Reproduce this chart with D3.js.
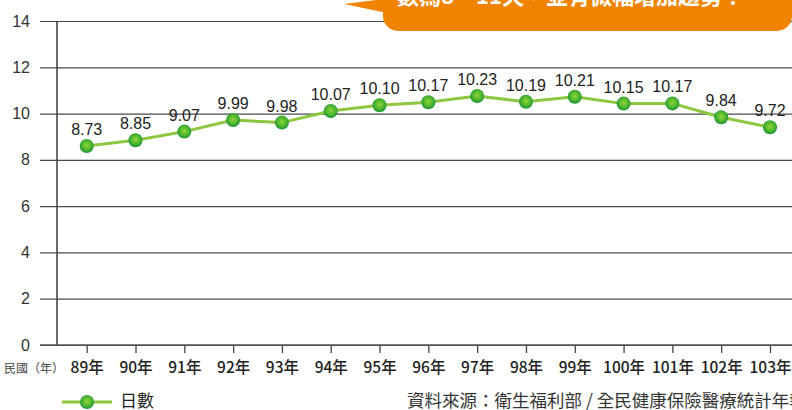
<!DOCTYPE html>
<html>
<head>
<meta charset="utf-8">
<script src="https://cdn.jsdelivr.net/npm/d3@7"></script>
<style>
	html, body { margin: 0; padding: 0; background: #fff; overflow: hidden; }
	svg { display: block; font-family: "Liberation Sans", Arial, "Noto Sans CJK TC", sans-serif; }
	.cjk { font-family: "Noto Sans CJK TC", "Liberation Sans", sans-serif; }
</style>
</head>
<body>
<div id="chart"></div>
<script>
// categories (民國 years)
var years = ["89年", "90年", "91年", "92年", "93年", "94年", "95年", "96年",
	"97年", "98年", "99年", "100年", "101年", "102年", "103年"]
// plotted values (as drawn in the picture)
var days = [8.6, 8.85, 9.22, 9.72, 9.61, 10.11, 10.36, 10.49, 10.76, 10.51, 10.73, 10.43, 10.44, 9.84, 9.41]
// printed labels
var dayLabels = ["8.73", "8.85", "9.07", "9.99", "9.98", "10.07", "10.10", "10.17",
	"10.23", "10.19", "10.21", "10.15", "10.17", "9.84", "9.72"]
var yTicks = [0, 2, 4, 6, 8, 10, 12, 14]

var w = 792, h = 410,
	margins = {top: 21, bottom: 345, left: 57, right: 792},
	lineColor = "#8DC63F",
	gridColor = "#4a4a4a",
	orange = "#F08300"

var svg = d3.select("#chart").append("svg")
	.attr("width", w)
	.attr("height", h)

var defs = svg.append("defs")
var grad = defs.append("radialGradient")
	.attr("id", "dot")
	.attr("cx", "50%").attr("cy", "45%").attr("r", "55%")
grad.append("stop").attr("offset", "0%").attr("stop-color", "#8fd63a")
grad.append("stop").attr("offset", "60%").attr("stop-color", "#4fb52e")
grad.append("stop").attr("offset", "100%").attr("stop-color", "#17933a")

var x = d3.scalePoint()
	.domain(years)
	.range([86.7, 770])

var y = d3.scaleLinear()
	.domain([0, 14])
	.range([margins.bottom, margins.top])

// gridlines + y ticks
var yAxis = d3.axisLeft(y)
	.tickValues(yTicks)
	.tickSize(-(margins.right - 40))
	.tickPadding(10)
	.tickFormat(d3.format("d"))

var gy = svg.append("g")
	.attr("transform", "translate(40, 0)")
	.call(yAxis)
gy.select(".domain").remove()
gy.selectAll(".tick line")
	.attr("stroke", gridColor)
	.attr("stroke-width", 1.2)
gy.selectAll(".tick text")
	.attr("fill", "#333")
	.style("font-size", "16px")
	.attr("x", -10)

// vertical axis line
svg.append("line")
	.attr("x1", margins.left).attr("x2", margins.left)
	.attr("y1", margins.top).attr("y2", margins.bottom)
	.attr("stroke", "#3a3a3a")
	.attr("stroke-width", 1.5)

// x axis
var xAxis = d3.axisBottom(x)
	.tickSize(8)
	.tickPadding(9)

var gx = svg.append("g")
	.attr("transform", "translate(0, " + margins.bottom + ")")
	.call(xAxis)
gx.select(".domain").remove()
gx.selectAll(".tick line")
	.attr("stroke", "#444")
	.attr("stroke-width", 1.3)
gx.selectAll(".tick text")
	.attr("fill", "#222")
	.style("font-size", "15.5px")
	.style("font-weight", "500")
	.attr("class", "cjk")

svg.append("line")
	.attr("x1", 40).attr("x2", w)
	.attr("y1", margins.bottom).attr("y2", margins.bottom)
	.attr("stroke", "#555")
	.attr("stroke-width", 1.5)

svg.append("text")
	.attr("class", "cjk")
	.attr("x", 4)
	.attr("y", 373)
	.attr("fill", "#444")
	.style("font-size", "12px")
	.text("民國（年）")

// line
var line = d3.line()
	.x((d, i) => x(years[i]))
	.y(d => y(d))

svg.append("path")
	.datum(days)
	.attr("d", line)
	.attr("fill", "none")
	.attr("stroke", lineColor)
	.attr("stroke-width", 3)

svg.selectAll("circle.pt")
	.data(days)
	.enter()
	.append("circle")
	.attr("class", "pt")
	.attr("cx", (d, i) => x(years[i]))
	.attr("cy", d => y(d))
	.attr("r", 7)
	.attr("fill", "url(#dot)")

svg.selectAll("text.lbl")
	.data(days)
	.enter()
	.append("text")
	.attr("class", "lbl")
	.attr("x", (d, i) => x(years[i]))
	.attr("y", d => y(d) - 11)
	.attr("text-anchor", "middle")
	.attr("fill", "#222")
	.style("font-size", "16px")
	.text((d, i) => dayLabels[i])

// legend
svg.append("line")
	.attr("x1", 62).attr("x2", 112)
	.attr("y1", 402).attr("y2", 402)
	.attr("stroke", lineColor)
	.attr("stroke-width", 3)
svg.append("circle")
	.attr("cx", 87).attr("cy", 402)
	.attr("r", 7)
	.attr("fill", "url(#dot)")
svg.append("text")
	.attr("class", "cjk")
	.attr("x", 120).attr("y", 407)
	.attr("fill", "#222")
	.style("font-size", "17px")
	.text("日數")

// source
svg.append("text")
	.attr("class", "cjk")
	.attr("x", 407).attr("y", 407)
	.attr("fill", "#333")
	.style("font-size", "17.5px")
	.text("資料來源：衛生福利部 / 全民健康保險醫療統計年報")

// orange callout
svg.append("path")
	.attr("d", "M344,4 L392,-2 L392,14 Z")
	.attr("fill", orange)
svg.append("rect")
	.attr("x", 383).attr("y", -30)
	.attr("width", 409).attr("height", 61)
	.attr("rx", 15)
	.attr("fill", orange)
svg.append("text")
	.attr("class", "cjk")
	.attr("x", 397).attr("y", 4)
	.attr("fill", "#fff")
	.style("font-size", "22px")
	.style("font-weight", "bold")
	.text("數為8～11天，並有微幅增加趨勢！")
</script>
</body>
</html>
